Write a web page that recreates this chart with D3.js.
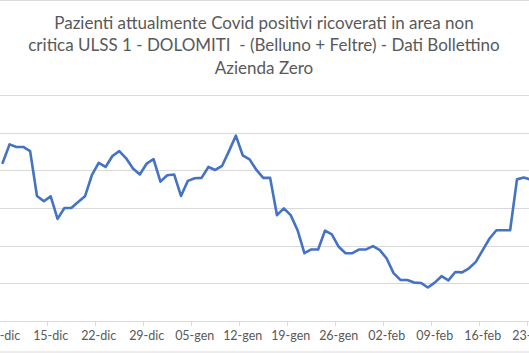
<!DOCTYPE html>
<html>
<head>
<meta charset="utf-8">
<script src="https://cdn.jsdelivr.net/npm/d3@7"></script>
<style>
  html, body { margin: 0; padding: 0; background: #fff; overflow: hidden; }
  svg { display: block; font-family: Lato, "Open Sans", sans-serif; }
</style>
</head>
<body>
<div id="chart"></div>
<script>
// dati giornalieri: 08-dic-2020 -> 23-feb-2021
const startDay = new Date(2020, 11, 8);
const endDay = new Date(2021, 1, 24);
const days = d3.timeDay.range(startDay, endDay);

const ricoverati = [
  42.0, 46.9, 46.2, 46.2, 45.1, 33.2, 31.8, 33.1, 27.1, 30.0,
  30.0, 31.6, 33.1, 38.7, 42.0, 40.9, 43.8, 45.1, 43.2, 40.5,
  38.9, 41.8, 43.0, 37.0, 38.7, 38.9, 33.2, 37.2, 37.9, 38.0,
  40.9, 40.1, 41.2, 45.1, 49.2, 44.0, 42.9, 40.1, 38.0, 38.0,
  28.1, 29.9, 28.1, 24.1, 18.0, 19.0, 19.0, 24.0, 23.0, 19.7,
  18.0, 18.0, 19.0, 19.0, 19.9, 18.8, 16.6, 12.7, 10.9, 10.9,
  10.2, 10.1, 8.9, 10.2, 11.9, 10.8, 13.0, 12.9, 14.0, 15.7,
  18.8, 21.9, 24.1, 24.1, 24.1, 37.6, 38.1, 37.5
];

const tickLabels = ["08-dic", "15-dic", "22-dic", "29-dic", "05-gen", "12-gen",
  "19-gen", "26-gen", "02-feb", "09-feb", "16-feb", "23-feb"];
const yTicks = [0, 10, 20, 30, 40, 50, 60];

const titleLines = [
  "Pazienti attualmente Covid positivi ricoverati in area non",
  "critica ULSS 1 - DOLOMITI  - (Belluno + Feltre) - Dati Bollettino",
  "Azienda Zero"
];

const W = 529, H = 353;
const dayW = 48 / 7;
const x0 = -0.73;
const plotTop = 95, plotBottom = 321;

const svg = d3.select("#chart").append("svg")
  .attr("width", W).attr("height", H);

svg.append("rect").attr("width", W).attr("height", H).attr("fill", "#fff");

// bordo del grafico (solo sopra e sotto visibili)
svg.append("rect")
  .attr("x", -2).attr("y", 0.5)
  .attr("width", W + 4).attr("height", H - 1.5)
  .attr("fill", "none").attr("stroke", "#d9d9d9");

const data = days.map((d, i) => ({ date: d, value: ricoverati[i] }));

const x = d3.scaleBand()
  .domain(days.map(d => +d))
  .range([x0, x0 + days.length * dayW]);

const y = d3.scaleLinear().domain([0, 60]).range([plotBottom, plotTop]);

// griglia
svg.append("g").selectAll("line")
  .data(yTicks.slice(1))
  .join("line")
  .attr("x1", -5).attr("x2", W + 5)
  .attr("y1", d => Math.round(y(d)) + 0.5)
  .attr("y2", d => Math.round(y(d)) + 0.5)
  .attr("stroke", "#d9d9d9").attr("stroke-width", 1);

// asse x
const fmt = d3.timeFormat("%d");
const monthIt = ["gen", "feb", "mar", "apr", "mag", "giu", "lug", "ago", "set", "ott", "nov", "dic"];
const label = d => `${fmt(d)}-${monthIt[d.getMonth()]}`;
const tickDays = days.filter(d => tickLabels.includes(label(d)));

const xAxis = svg.append("g").attr("class", "x-axis");
xAxis.append("line")
  .attr("x1", -5).attr("x2", W + 5)
  .attr("y1", plotBottom + 0.5).attr("y2", plotBottom + 0.5)
  .attr("stroke", "#d9d9d9");

xAxis.selectAll("line.tick")
  .data(tickDays)
  .join("line")
  .attr("class", "tick")
  .attr("x1", d => Math.round(x(+d)) + 0.5)
  .attr("x2", d => Math.round(x(+d)) + 0.5)
  .attr("y1", plotBottom).attr("y2", plotBottom + 5)
  .attr("stroke", "#d9d9d9");

xAxis.selectAll("text")
  .data(tickDays)
  .join("text")
  .attr("x", d => x(+d) + x.bandwidth() / 2)
  .attr("y", 340)
  .attr("text-anchor", "middle")
  .attr("fill", "#595959")
  .style("font-size", "12.5px")
  .text(d => label(d));

// linea
const line = d3.line()
  .x(d => x(+d.date) + x.bandwidth() / 2)
  .y(d => y(d.value));

svg.append("path")
  .datum(data)
  .attr("fill", "none")
  .attr("stroke", "#4472c4")
  .attr("stroke-width", 2.6)
  .attr("stroke-linejoin", "round")
  .attr("stroke-linecap", "round")
  .attr("d", line);

// titolo
svg.append("g").selectAll("text")
  .data(titleLines)
  .join("text")
  .attr("x", 264)
  .attr("y", (d, i) => 28.5 + i * 22.5)
  .attr("text-anchor", "middle")
  .attr("fill", "#595959")
  .style("font-size", "17px")
  .style("white-space", "pre")
  .text(d => d);
</script>
</body>
</html>
